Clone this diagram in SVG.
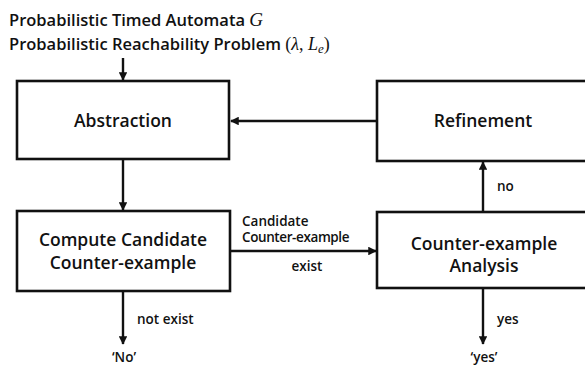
<svg xmlns="http://www.w3.org/2000/svg" width="585" height="365" viewBox="0 0 585 365">
  <defs>
    <marker id="arrow" viewBox="0 0 10 10" refX="9" refY="5" markerWidth="3.6" markerHeight="3.6" orient="auto" markerUnits="strokeWidth">
      <path d="M0,0 L10,5 L0,10 z" fill="#111"/>
    </marker>
  </defs>
  <style>
    .box { fill: #fff; stroke: #111; stroke-width: 2.6; }
    .edge { fill: none; stroke: #111; stroke-width: 2.4; marker-end: url(#arrow); }
    text { font-family: "Open Sans", "Liberation Sans", sans-serif; fill: #111; }
    .head { font-size: 16.5px; font-weight: 600; }
    .node { font-size: 17.5px; font-weight: 600; text-anchor: middle; }
    .lbl { font-size: 13.5px; font-weight: 600; }
    .paren { font-family: "Liberation Serif", "DejaVu Serif", serif; font-size: 18px; font-weight: 400; }
    .math { font-family: "Liberation Serif", "DejaVu Serif", serif; font-style: italic; font-weight: 400; }
  </style>
  <rect width="585" height="365" fill="#fff"/>

  <!-- problem statement -->
  <text class="head" x="9" y="26">Probabilistic Timed Automata <tspan class="math" font-size="19">G</tspan></text>
  <text class="head" x="9" y="50">Probabilistic Reachability Problem <tspan class="paren">(</tspan><tspan class="math" font-size="18">λ</tspan><tspan class="paren">, </tspan><tspan class="math" font-size="18">L</tspan><tspan class="math" font-size="13" dy="3">e</tspan><tspan class="paren" dy="-3">)</tspan></text>

  <g id="abstraction">
    <rect class="box" x="17" y="81" width="212" height="78"/>
    <text class="node" x="123" y="127">Abstraction</text>
  </g>

  <g id="refinement">
    <rect class="box" x="377" y="81" width="220" height="80"/>
    <text class="node" x="483" y="127">Refinement</text>
  </g>

  <g id="compute">
    <rect class="box" x="17" y="211" width="213" height="80"/>
    <text class="node" x="123" y="246">Compute Candidate</text>
    <text class="node" x="123" y="269">Counter-example</text>
  </g>

  <g id="analysis">
    <rect class="box" x="377" y="212" width="220" height="76"/>
    <text class="node" x="484" y="250">Counter-example</text>
    <text class="node" x="484" y="272">Analysis</text>
  </g>

  <g id="connectors">
    <line class="edge" x1="123" y1="58" x2="123" y2="80"/>
    <line class="edge" x1="123" y1="159" x2="123" y2="210"/>
    <line class="edge" x1="377" y1="121" x2="231" y2="121"/>
    <line class="edge" x1="483" y1="212" x2="483" y2="162"/>
    <line class="edge" x1="230" y1="251" x2="376" y2="251"/>
    <line class="edge" x1="123" y1="291" x2="123" y2="344"/>
    <line class="edge" x1="483" y1="288" x2="483" y2="344"/>

    <text class="lbl" x="242" y="226" font-size="13">Candidate</text>
    <text class="lbl" x="242" y="242" font-size="13.5" letter-spacing="-0.4">Counter-example</text>
    <text class="lbl" x="307" y="271" text-anchor="middle">exist</text>
    <text class="lbl" x="497" y="191">no</text>
    <text class="lbl" x="137" y="324">not exist</text>
    <text class="lbl" x="497" y="324">yes</text>
    <text class="lbl" x="124" y="362" text-anchor="middle" font-size="14">‘No’</text>
    <text class="lbl" x="484" y="362" text-anchor="middle" font-size="14">‘yes’</text>
  </g>
</svg>
